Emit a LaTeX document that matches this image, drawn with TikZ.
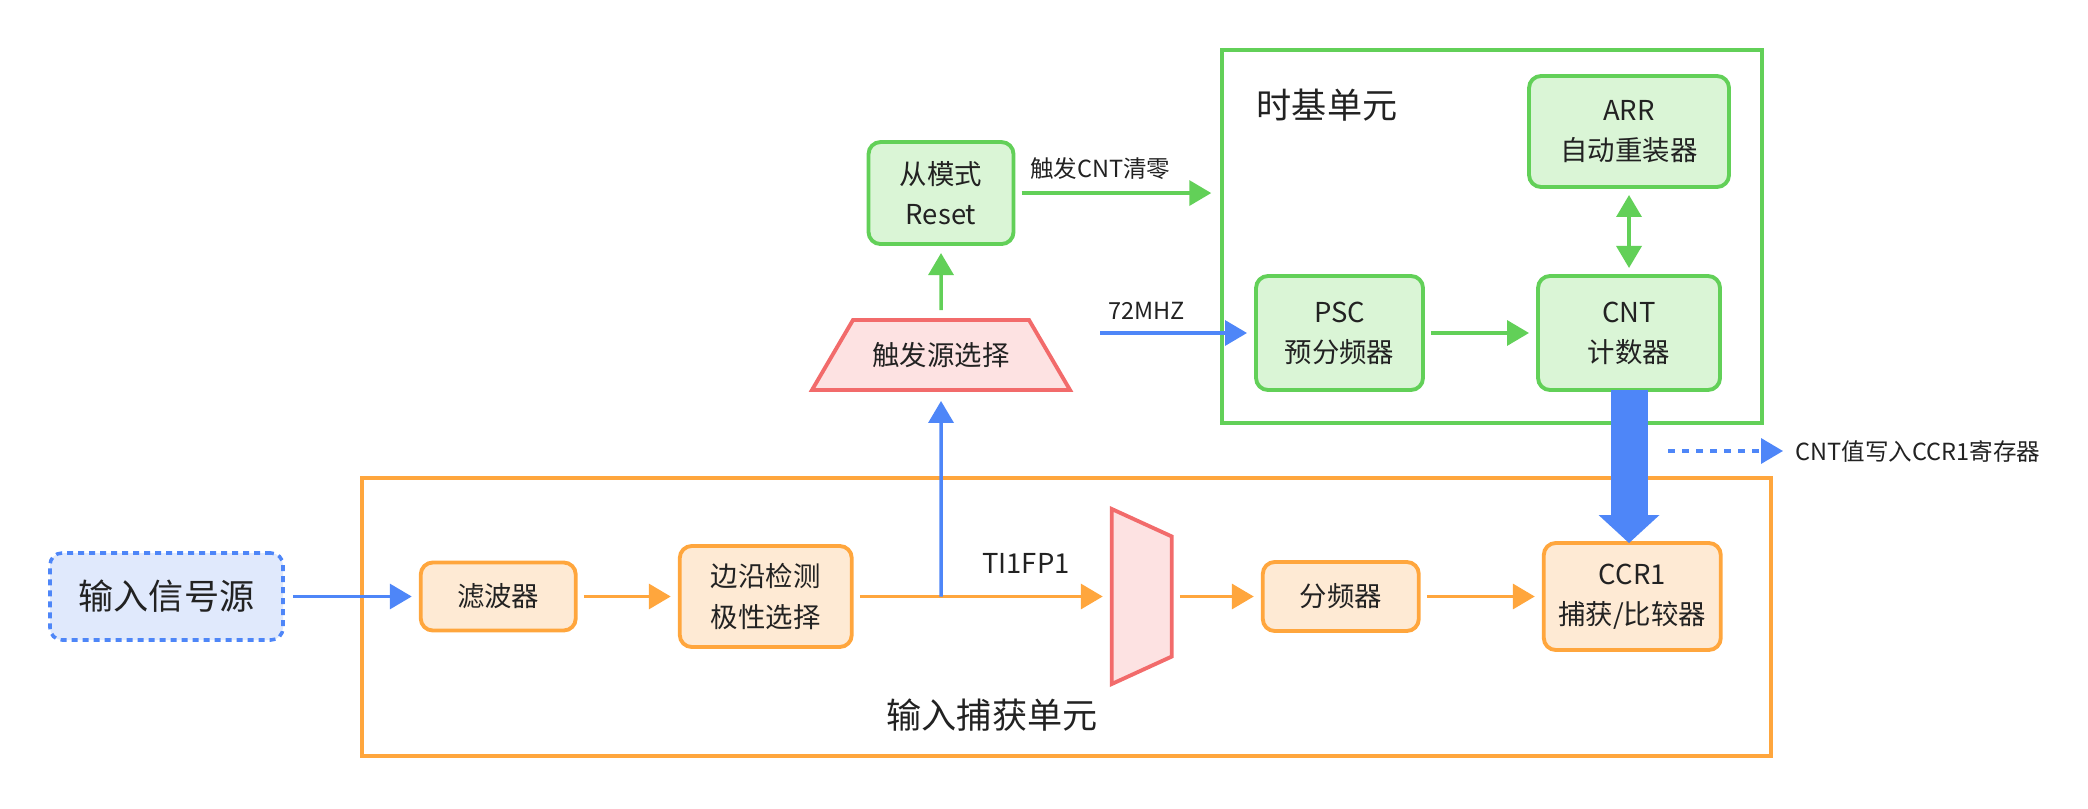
\documentclass[tikz,border=0pt]{standalone}
\usepackage{fontspec}
\setmainfont{Noto Sans CJK SC}
\usetikzlibrary{shapes,arrows.meta,positioning}
\definecolor{tbgreen}{RGB}{98,208,88}
\definecolor{tbgreenfill}{RGB}{218,245,214}
\definecolor{icorange}{RGB}{255,166,61}
\definecolor{icorangefill}{RGB}{254,234,212}
\definecolor{selred}{RGB}{242,107,107}
\definecolor{selredfill}{RGB}{253,226,226}
\definecolor{sigblue}{RGB}{78,134,248}
\definecolor{sigbluefill}{RGB}{224,233,252}
\definecolor{txtgray}{RGB}{34,34,34}

\begin{document}
\begin{tikzpicture}[
    font=\fontsize{7.8}{11.4}\selectfont, text=txtgray,
    gblock/.style={rectangle, draw=tbgreen, fill=tbgreenfill, line width=1.1pt, rounded corners=0.12cm, align=center, outer sep=0pt},
    oblock/.style={rectangle, draw=icorange, fill=icorangefill, line width=1.1pt, rounded corners=0.12cm, align=center, outer sep=0pt},
    srcblock/.style={rectangle, draw=sigblue, fill=sigbluefill, line width=1pt, dash pattern=on 0.06cm off 0.05cm, rounded corners=0.12cm, font=\fontsize{10}{12}\selectfont},
    unitbox/.style={rectangle, draw=#1, line width=1pt},
    trig/.style={trapezium, trapezium angle=58.7, trapezium stretches body, inner ysep=0.21cm, minimum width=2.58cm, minimum height=0.70cm, draw=selred, fill=selredfill, line width=1.1pt},
    muxblock/.style={trapezium, shape border rotate=270, trapezium angle=65.4, trapezium stretches body, inner sep=0.3cm, minimum width=1.75cm, minimum height=0.60cm, draw=selred, fill=selredfill, line width=1.1pt, outer sep=0pt},
    title/.style={font=\fontsize{10}{12}\selectfont},
    lbl/.style={font=\fontsize{6.7}{8}\selectfont},
    arrow/.style={-{Triangle[length=0.22cm, width=0.25cm]}, draw=#1, line width=1pt, shorten <=0.08cm, shorten >=0.09cm},
    darrow/.style={{Triangle[length=0.22cm, width=0.25cm]}-{Triangle[length=0.22cm, width=0.25cm]}, draw=tbgreen, line width=1pt, shorten <=0.08cm, shorten >=0.08cm},
    bigarrow/.style={-{Triangle[length=0.28cm, width=0.61cm, line width=0pt]}, draw=sigblue, line width=0.37cm},
    dasharrow/.style={-{Triangle[length=0.22cm, width=0.25cm]}, draw=sigblue, line width=1pt, dash pattern=on 0.07cm off 0.07cm}
]
\useasboundingbox (0,0) rectangle (20.88,8.08);

\node[unitbox=tbgreen, minimum width=5.40cm, minimum height=3.73cm] (tbase) at (14.92,5.715) {};
\node[unitbox=icorange, minimum width=14.09cm, minimum height=2.78cm] (icap) at (10.665,1.91) {};
\node[title] (tbtitle) at (13.27,7.03) {时基单元};
\node[title] (ictitle) at (9.92,0.93) {输入捕获单元};

\node[srcblock, minimum width=2.33cm, minimum height=0.87cm] (src) at (1.665,2.115) {输入信号源};
\node[oblock, minimum width=1.55cm, minimum height=0.68cm, right=1.36cm of src] (filt) {滤波器};
\node[oblock, minimum width=1.72cm, minimum height=1.01cm, right=1.04cm of filt] (edge) {边沿检测\\极性选择};
\node[muxblock, right=2.60cm of edge] (mux) {};
\node[oblock, minimum width=1.56cm, minimum height=0.69cm, right=0.91cm of mux] (div) {分频器};
\node[oblock, minimum width=1.77cm, minimum height=1.07cm, right=1.25cm of div] (ccr) {CCR1\\捕获/比较器};

\node[trig] (sel) at (9.41,4.53) {触发源选择};
\node[gblock, minimum width=1.45cm, minimum height=1.02cm, above=0.74cm of sel] (reset) {从模式\\Reset};
\node[gblock, minimum width=1.67cm, minimum height=1.14cm] (psc) at (13.395,4.75) {PSC\\预分频器};
\node[gblock, minimum width=1.82cm, minimum height=1.14cm, right=1.15cm of psc] (cnt) {CNT\\计数器};
\node[gblock, minimum width=2.00cm, minimum height=1.11cm, above=0.89cm of cnt] (arr) {ARR\\自动重装器};

\coordinate (clk) at (11.00,4.75);
\coordinate (branch) at (edge.east -| sel.south);
\coordinate (lgstart) at (16.68,3.57);
\node[lbl, anchor=west] (legend) at (17.83,3.57) {CNT值写入CCR1寄存器};

\draw[arrow=sigblue] (src) -- (filt);
\draw[arrow=icorange] (filt) -- (edge);
\draw[arrow=icorange] (edge) -- node[above=0.1cm, pos=0.67] {TI1FP1} (mux);
\draw[arrow=icorange] (mux) -- (div);
\draw[arrow=icorange] (div) -- (ccr);
\draw[arrow=sigblue, shorten <=0pt] (branch) -- (sel);
\draw[arrow=tbgreen] (sel) -- (reset);
\draw[arrow=tbgreen] (reset) -- node[lbl, above, pos=0.42] {触发CNT清零} (reset -| tbase.west);
\draw[arrow=sigblue, shorten <=0pt] (clk) -- node[lbl, above, pos=0.3] {72MHZ} (psc);
\draw[arrow=tbgreen] (psc) -- (cnt);
\draw[darrow] (arr) -- (cnt);
\draw[bigarrow] (cnt.south) -- (cnt.south |- ccr.north);
\draw[dasharrow] (lgstart) -- (legend.west);
\end{tikzpicture}
\end{document}
